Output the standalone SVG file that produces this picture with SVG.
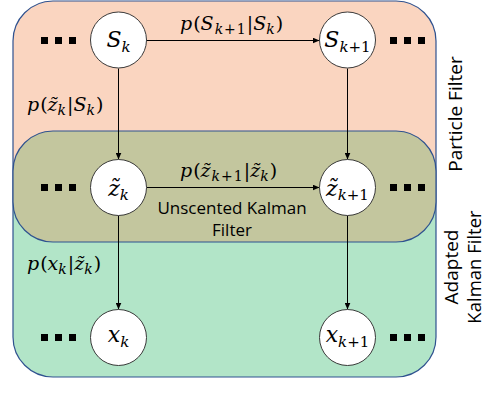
<svg xmlns="http://www.w3.org/2000/svg" width="488" height="408" viewBox="0 0 488 408">
<defs>
<style>
.bg{stroke:none}
.outline{fill:none;stroke:#2F528F;stroke-width:1.2}
.node circle{fill:#fff;stroke:#3a3a3a;stroke-width:1}
.m{font-family:"DejaVu Serif","Liberation Serif",serif;font-style:italic;fill:#000}
.u{font-style:normal}
.nl{font-size:22px}
.lb{font-size:19px}
.sans{font-family:"Open Sans","Liberation Sans",sans-serif;fill:#000}
.conn line{stroke:#000;stroke-width:1;fill:none}
.dot{fill:#000}
</style>
<marker id="ah" markerWidth="7" markerHeight="6" refX="7" refY="3" orient="auto" markerUnits="userSpaceOnUse">
<path d="M0,0 L7,3 L0,6 Z" fill="#000"/>
</marker>
</defs>
<g id="regions">
<path class="bg" fill="#FAD5C0" d="M53,1 H396 A40,40 0 0 1 436,41 V190 H13 V41 A40,40 0 0 1 53,1 Z"/>
<path class="bg" fill="#B2E5C8" d="M13,190 H436 V337 A40,40 0 0 1 396,377 H53 A40,40 0 0 1 13,337 Z"/>
<rect class="outline" x="13" y="1" width="423" height="376" rx="40" ry="40"/>
<rect id="ukf-region" x="13" y="131" width="423" height="111" rx="40" ry="40" fill="#C3C69E" stroke="#2F528F" stroke-width="1.2"/>
</g>
<g id="connectors" class="conn">
<line x1="146.5" y1="40.5" x2="319.5" y2="40.5" marker-end="url(#ah)"/>
<line x1="146.5" y1="187.5" x2="319.5" y2="187.5" marker-end="url(#ah)"/>
<line x1="118.5" y1="68.5" x2="118.5" y2="159.5" marker-end="url(#ah)"/>
<line x1="347.5" y1="68.5" x2="347.5" y2="159.5" marker-end="url(#ah)"/>
<line x1="118.5" y1="215.5" x2="118.5" y2="309.5" marker-end="url(#ah)"/>
<line x1="347.5" y1="215.5" x2="347.5" y2="309.5" marker-end="url(#ah)"/>
</g>
<g id="edge-labels" class="m lb">
<text x="180" y="30">p<tspan class="u" dx="1">(</tspan>S<tspan font-size="14" dy="4" dx="1">k</tspan><tspan class="u" font-size="14" dx="1">+</tspan><tspan class="u" font-size="14" dx="1">1</tspan><tspan class="u" dy="-4" dx="1">|</tspan>S<tspan font-size="14" dy="4">k</tspan><tspan class="u" dy="-4" dx="1">)</tspan></text>
<text x="27" y="111">p<tspan class="u" dx="1">(</tspan>z&#771;<tspan font-size="14" dy="4">k</tspan><tspan class="u" dy="-4" dx="1">|</tspan>S<tspan font-size="14" dy="4">k</tspan><tspan class="u" dy="-4" dx="1">)</tspan></text>
<text x="180" y="177">p<tspan class="u" dx="1">(</tspan>z&#771;<tspan font-size="14" dy="4" dx="1">k</tspan><tspan class="u" font-size="14" dx="1">+</tspan><tspan class="u" font-size="14" dx="1">1</tspan><tspan class="u" dy="-4" dx="1">|</tspan>z&#771;<tspan font-size="14" dy="4">k</tspan><tspan class="u" dy="-4" dx="1">)</tspan></text>
<text x="27" y="270">p<tspan class="u" dx="1">(</tspan>x<tspan font-size="14" dy="4">k</tspan><tspan class="u" dy="-4" dx="1">|</tspan>z&#771;<tspan font-size="14" dy="4">k</tspan><tspan class="u" dy="-4" dx="1">)</tspan></text>
</g>
<g id="node-Sk" class="node">
<circle cx="118.5" cy="40" r="28"/>
<text class="m nl" x="118.5" y="47" text-anchor="middle">S<tspan font-size="15" dy="5">k</tspan></text>
</g>
<g id="node-Sk1" class="node">
<circle cx="347.5" cy="40" r="28"/>
<text class="m nl" x="347.5" y="47" text-anchor="middle">S<tspan font-size="15" dy="5">k</tspan><tspan class="u" font-size="15">+1</tspan></text>
</g>
<g id="node-zk" class="node">
<circle cx="118.5" cy="187.5" r="28"/>
<text class="m nl" x="118.5" y="196" text-anchor="middle">z&#771;<tspan font-size="15" dy="4">k</tspan></text>
</g>
<g id="node-zk1" class="node">
<circle cx="347.5" cy="187.5" r="28"/>
<text class="m nl" x="347.5" y="196" text-anchor="middle">z&#771;<tspan font-size="15" dy="4">k</tspan><tspan class="u" font-size="15">+1</tspan></text>
</g>
<g id="node-xk" class="node">
<circle cx="118.5" cy="337.5" r="28"/>
<text class="m nl" x="118.5" y="342" text-anchor="middle">x<tspan font-size="15" dy="5">k</tspan></text>
</g>
<g id="node-xk1" class="node">
<circle cx="347.5" cy="337.5" r="28"/>
<text class="m nl" x="347.5" y="342" text-anchor="middle">x<tspan font-size="15" dy="5">k</tspan><tspan class="u" font-size="15">+1</tspan></text>
</g>
<g id="ellipses" class="dot">
<rect x="41" y="37" width="7" height="7"/><rect x="55" y="37" width="7" height="7"/><rect x="69" y="37" width="7" height="7"/>
<rect x="390" y="37" width="7" height="7"/><rect x="404" y="37" width="7" height="7"/><rect x="418" y="37" width="7" height="7"/>
<rect x="41" y="184" width="7" height="7"/><rect x="55" y="184" width="7" height="7"/><rect x="69" y="184" width="7" height="7"/>
<rect x="390" y="184" width="7" height="7"/><rect x="404" y="184" width="7" height="7"/><rect x="418" y="184" width="7" height="7"/>
<rect x="41" y="334" width="7" height="7"/><rect x="55" y="334" width="7" height="7"/><rect x="69" y="334" width="7" height="7"/>
<rect x="390" y="334" width="7" height="7"/><rect x="404" y="334" width="7" height="7"/><rect x="418" y="334" width="7" height="7"/>
</g>
<g id="region-labels" class="sans">
<text x="232" y="214" font-size="17" text-anchor="middle">Unscented Kalman</text>
<text x="232" y="236" font-size="17" text-anchor="middle">Filter</text>
<text transform="translate(462,114) rotate(-90)" font-size="19" text-anchor="middle">Particle Filter</text>
<text transform="translate(458,267) rotate(-90)" font-size="19" text-anchor="middle">Adapted</text>
<text transform="translate(481,267) rotate(-90)" font-size="18.5" text-anchor="middle">Kalman Filter</text>
</g>
</svg>
